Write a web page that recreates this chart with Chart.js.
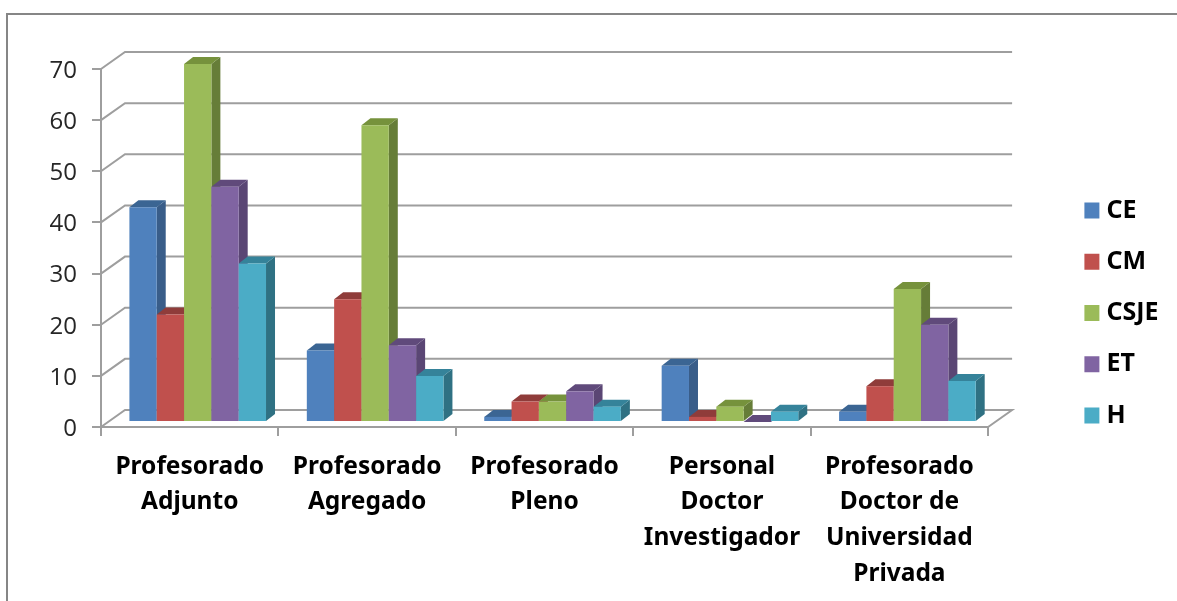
<!DOCTYPE html>
<html lang="es">
<head>
<meta charset="UTF-8">
<title>Profesorado por rama</title>
<script src="https://cdn.jsdelivr.net/npm/chart.js"></script>
<style>
    html, body { margin: 0; padding: 0; background: #fff; overflow: hidden; }
    #wrap { position: relative; width: 1177px; height: 601px; overflow: hidden; }
    #frame { position: absolute; left: 6px; top: 13px; width: 1300px; height: 800px; border: 2px solid #868686; }
    canvas { position: absolute; left: 0; top: 0; }
</style>
</head>
<body>
<div id="wrap">
    <div id="frame"></div>
    <canvas id="chart" width="1177" height="601"></canvas>
</div>
<script>
    const categories = [
        ['Profesorado', 'Adjunto'],
        ['Profesorado', 'Agregado'],
        ['Profesorado', 'Pleno'],
        ['Personal', 'Doctor', 'Investigador'],
        ['Profesorado', 'Doctor de', 'Universidad', 'Privada']
    ];
    const ce = [42, 14, 1, 11, 2];
    const cm = [21, 24, 4, 1, 7];
    const csje = [70, 58, 4, 3, 26];
    const et = [46, 15, 6, 0, 19];
    const h = [31, 9, 3, 2, 8];

    const gridColor = '#9e9e9e';

    function makeSet(label, data, front, side, top) {
        return { label, data, backgroundColor: front, sideColor: side, topColor: top, borderWidth: 0 };
    }

    function poly(ctx, pts, color) {
        ctx.fillStyle = color;
        ctx.beginPath();
        pts.forEach((p, i) => i ? ctx.lineTo(p[0], p[1]) : ctx.moveTo(p[0], p[1]));
        ctx.closePath();
        ctx.fill();
    }

    // the 3D look: back wall lines, then bars left to right with a side and a top face
    const depth3d = {
        id: 'depth3d',
        afterLayout(chart) {
            // the scale clips its labels to its own box, the last line hangs below it
            chart.scales.x.bottom = chart.height;
        },
        beforeDatasetsDraw(chart) {
            const ctx = chart.ctx;
            const yScale = chart.scales.y;
            const left = chart.chartArea.left, right = chart.chartArea.right;
            const wallX = 24, wallY = 17;
            ctx.save();
            ctx.strokeStyle = gridColor;
            ctx.lineWidth = 2;
            yScale.ticks.forEach(t => {
                const y = yScale.getPixelForValue(t.value);
                ctx.beginPath();
                ctx.moveTo(left, y);
                ctx.lineTo(left + wallX, y - wallY);
                ctx.lineTo(right + wallX, y - wallY);
                if (t.value === 0) ctx.lineTo(right, y);
                ctx.stroke();
            });
            ctx.restore();

            const dx = 9, dy = 7;
            chart.data.datasets.forEach((ds, i) => {
                const meta = chart.getDatasetMeta(i);
                ctx.save();
                ctx.translate(8, -5);
                meta.data.forEach(bar => {
                    const l = bar.x - bar.width / 2, r = bar.x + bar.width / 2;
                    poly(ctx, [[r, bar.y], [r + dx, bar.y - dy], [r + dx, bar.base - dy], [r, bar.base]], ds.sideColor);
                    poly(ctx, [[l, bar.y], [l + dx, bar.y - dy], [r + dx, bar.y - dy], [r, bar.y]], ds.topColor);
                });
                meta.controller.draw();
                ctx.restore();
            });
            return false;
        }
    };

    new Chart(document.getElementById('chart'), {
        type: 'bar',
        data: {
            labels: categories,
            datasets: [
                makeSet('CE', ce, '#4f81bd', '#395d89', '#3b6593'),
                makeSet('CM', cm, '#c0504d', '#8b3a38', '#8f3c3a'),
                makeSet('CSJE', csje, '#9bbb59', '#667d38', '#76923c'),
                makeSet('ET', et, '#8064a2', '#5a4674', '#604a7b'),
                makeSet('H', h, '#4bacc6', '#2f7183', '#35839a')
            ]
        },
        plugins: [depth3d],
        options: {
            responsive: false,
            animation: false,
            layout: { padding: { left: 0, right: 8.5, top: 69, bottom: 44 } },
            datasets: { bar: { categoryPercentage: 0.77, barPercentage: 1 } },
            plugins: {
                tooltip: { enabled: false },
                legend: {
                    position: 'right',
                    labels: {
                        // small box with a thick same-colour outline, keeps the text close to the swatch
                        boxWidth: 4,
                        boxHeight: 5,
                        padding: 26.3,
                        color: '#000',
                        font: { family: 'Noto Sans', size: 25, weight: 'bold' },
                        generateLabels(chart) {
                            const items = Chart.defaults.plugins.legend.labels.generateLabels(chart);
                            items.forEach(item => {
                                item.strokeStyle = item.fillStyle;
                                item.lineWidth = 11;
                            });
                            return items;
                        }
                    }
                }
            },
            scales: {
                x: {
                    offset: true,
                    afterFit(scale) { scale.height = 130; },
                    border: { color: gridColor, width: 2 },
                    grid: { offset: true, drawOnChartArea: false, color: gridColor, lineWidth: 2, tickLength: 9 },
                    ticks: {
                        autoSkip: false,
                        maxRotation: 0,
                        padding: 13,
                        color: '#000',
                        font: { family: 'Noto Sans', size: 24.5, weight: 'bold', lineHeight: 1.453 }
                    }
                },
                y: {
                    min: 0,
                    max: 70,
                    afterFit(scale) { scale.width = 101; },
                    border: { color: gridColor, width: 2 },
                    grid: { drawOnChartArea: false, color: gridColor, lineWidth: 2, tickLength: 9 },
                    ticks: {
                        stepSize: 10,
                        padding: 15,
                        labelOffset: 2,
                        color: '#262626',
                        font: { family: 'Open Sans', size: 24 }
                    }
                },
                spare: {
                    position: 'right',
                    afterFit(scale) { scale.width = 75.5; },
                    border: { display: false },
                    grid: { display: false },
                    ticks: { display: false }
                }
            }
        }
    });
</script>
</body>
</html>
